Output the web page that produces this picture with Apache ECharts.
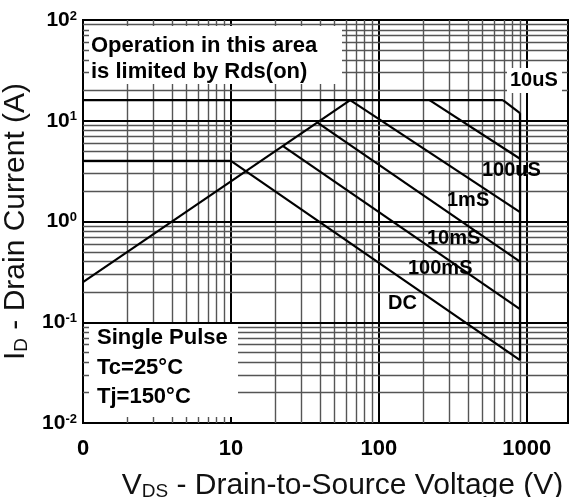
<!DOCTYPE html>
<html>
<head>
<meta charset="utf-8">
<title>Safe Operating Area</title>
<script src="https://cdn.jsdelivr.net/npm/echarts@6.0.0/dist/echarts.min.js"></script>
<style>
  html, body { margin: 0; padding: 0; background: #fff; }
  #chart { width: 570px; height: 497px; }
</style>
</head>
<body>
<div id="chart"></div>
<script>
// grid line positions (log axes)
const xMinorGrid = [2, 3, 4, 5, 6, 7, 8, 9, 20, 30, 40, 50, 60, 70, 80, 90, 200, 300, 400, 500, 600, 700, 800, 900];
const xMajorGrid = [10, 100, 1000];
const yMinorGrid = [0.02, 0.03, 0.04, 0.05, 0.06, 0.07, 0.08, 0.09, 0.2, 0.3, 0.4, 0.5, 0.6, 0.7, 0.8, 0.9,
                    2, 3, 4, 5, 6, 7, 8, 9, 20, 30, 40, 50, 60, 70, 80, 90];
const yMajorGrid = [0.1, 1, 10];

// SOA curves, points are [Vds (V), Id (A)]
const rdsLimit = [[1, 0.25], [64, 16]];
const idLimit = [[1, 16], [690, 16]];
const us10 = [[690, 16], [900, 11.9]];
const bvLimit = [[900, 11.9], [900, 0.042]];
const us100 = [[220, 16], [900, 4.2]];
const ms1 = [[64, 16], [900, 1.24]];
const ms10 = [[38.5, 9.6], [900, 0.4]];
const ms100 = [[22.5, 5.6], [900, 0.135]];
const dc = [[1, 4], [10, 4], [900, 0.042]];

const FONT = '"Liberation Sans", Arial, sans-serif';

const chart = echarts.init(document.getElementById('chart'));

function isDecade(v) {
  const e = Math.log10(v);
  return Math.abs(e - Math.round(e)) < 1e-6;
}

const gridLines = [];
xMinorGrid.forEach(v => gridLines.push({ xAxis: v, lineStyle: { color: '#555', width: 1.4, type: 'solid' } }));
xMajorGrid.forEach(v => gridLines.push({ xAxis: v, lineStyle: { color: '#000', width: 2, type: 'solid' } }));
yMinorGrid.forEach(v => gridLines.push({ yAxis: v, lineStyle: { color: '#555', width: 1.4, type: 'solid' } }));
yMajorGrid.forEach(v => gridLines.push({ yAxis: v, lineStyle: { color: '#000', width: 2, type: 'solid' } }));

const curves = [rdsLimit, idLimit, us10, bvLimit, us100, ms1, ms10, ms100, dc];

function label(text, x, y, size) {
  return {
    type: 'text', x: x, y: y, z: 30,
    style: { text: text, fontFamily: FONT, fontSize: size, fontWeight: 'bold', fill: '#000', verticalAlign: 'middle' }
  };
}

const option = {
  backgroundColor: '#fff',
  animation: false,
  grid: {
    left: 83, top: 20, right: 2, bottom: 74,
    show: true, borderColor: '#000', borderWidth: 2,
    outerBoundsMode: 'none'
  },
  xAxis: {
    type: 'log', logBase: 10, min: 1, max: 1900,
    axisLine: { show: false }, axisTick: { show: false }, splitLine: { show: false },
    axisLabel: {
      margin: 15, fontFamily: FONT, fontSize: 22, fontWeight: 'bold', color: '#000',
      formatter: v => isDecade(v) ? (v === 1 ? '0' : String(Math.round(v))) : ''
    },
    name: '{v|V}{d|DS}{v| - Drain-to-Source Voltage (V)}',
    nameLocation: 'middle', nameGap: 48,
    nameTextStyle: {
      padding: [0, 0, 0, 34],
      rich: {
        v: { fontFamily: FONT, fontSize: 30, color: '#111' },
        d: { fontFamily: FONT, fontSize: 19, color: '#111', verticalAlign: 'bottom' }
      }
    }
  },
  yAxis: {
    type: 'log', logBase: 10, min: 0.01, max: 100,
    axisLine: { show: false }, axisTick: { show: false }, splitLine: { show: false },
    axisLabel: {
      margin: 6,
      formatter: v => isDecade(v) ? '{b|10}{s|' + Math.round(Math.log10(v)) + '}' : '',
      rich: {
        b: { fontFamily: FONT, fontSize: 21, fontWeight: 'bold', color: '#000' },
        s: { fontFamily: FONT, fontSize: 13, fontWeight: 'bold', color: '#000', verticalAlign: 'top' }
      }
    },
    name: '{v|I}{d|D}{v| - Drain Current (A)}',
    nameLocation: 'middle', nameGap: 43,
    nameTextStyle: {
      rich: {
        v: { fontFamily: FONT, fontSize: 30, color: '#111' },
        d: { fontFamily: FONT, fontSize: 19, color: '#111', verticalAlign: 'bottom' }
      }
    }
  },
  graphic: [
    // white boxes behind the notes
    { type: 'rect', z: 10, shape: { x: 89, y: 26, width: 253, height: 58 }, style: { fill: '#fff' } },
    { type: 'rect', z: 10, shape: { x: 507, y: 68, width: 55, height: 25 }, style: { fill: '#fff' } },
    { type: 'rect', z: 10, shape: { x: 89, y: 324, width: 149, height: 93 }, style: { fill: '#fff' } },
    label('Operation in this area', 91, 46, 22),
    label('is limited by Rds(on)', 91, 72, 22),
    label('Single Pulse', 97, 338, 22),
    label('Tc=25°C', 97, 368, 22),
    label('Tj=150°C', 97, 397, 22),
    label('10uS', 510, 80, 20),
    label('100uS', 482, 170, 20),
    label('1mS', 447, 200, 20),
    label('10mS', 427, 238, 20),
    label('100mS', 408, 268, 20),
    label('DC', 388, 303, 20)
  ],
  series: [
    {
      type: 'line', z: 1, silent: true, symbol: 'none',
      data: [[1, 0.01]],
      lineStyle: { width: 0 },
      markLine: {
        silent: true, symbol: 'none', animation: false,
        label: { show: false },
        data: gridLines
      }
    }
  ].concat(curves.map(d => ({
    type: 'line', z: 20, silent: true, symbol: 'none',
    data: d,
    lineStyle: { color: '#000', width: 2.2 }
  })))
};

chart.setOption(option);
</script>
</body>
</html>
